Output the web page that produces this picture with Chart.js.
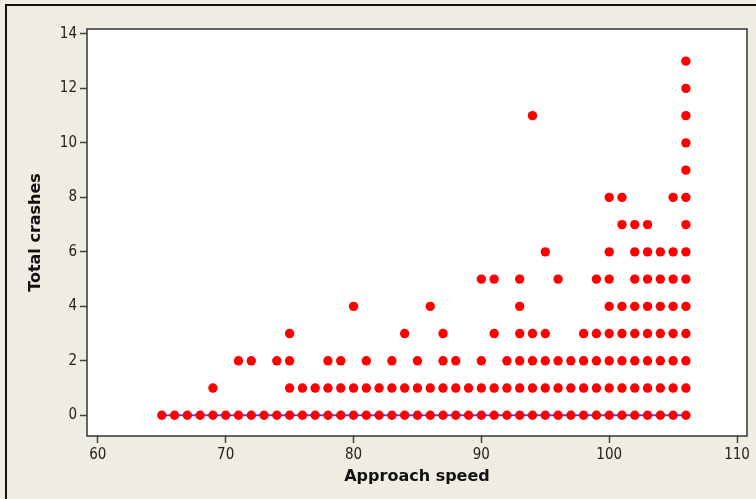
<!DOCTYPE html>
<html>
<head>
<meta charset="utf-8">
<script src="https://cdn.jsdelivr.net/npm/chart.js@4"></script>
<style>
  html, body { margin: 0; padding: 0; background: #efece3; }
  canvas { display: block; }
</style>
</head>
<body>
<canvas id="chartCanvas" width="756" height="499"></canvas>
<script>
// approach speeds observed for each crash count
const crash0 = [65, 66, 67, 68, 69, 70, 71, 72, 73, 74, 75, 76, 77, 78, 79, 80, 81, 82, 83, 84, 85,
  86, 87, 88, 89, 90, 91, 92, 93, 94, 95, 96, 97, 98, 99, 100, 101, 102, 103, 104, 105, 106];
const crash1 = [69, 75, 76, 77, 78, 79, 80, 81, 82, 83, 84, 85, 86, 87, 88, 89, 90, 91, 92, 93, 94,
  95, 96, 97, 98, 99, 100, 101, 102, 103, 104, 105, 106];
const crash2 = [71, 72, 74, 75, 78, 79, 81, 83, 85, 87, 88, 90, 92, 93, 94, 95, 96, 97, 98, 99, 100,
  101, 102, 103, 104, 105, 106];
const crash3 = [75, 84, 87, 91, 93, 94, 95, 98, 99, 100, 101, 102, 103, 104, 105, 106];
const crash4 = [80, 86, 93, 100, 101, 102, 103, 104, 105, 106];
const crash5 = [90, 91, 93, 96, 99, 100, 102, 103, 104, 105, 106];
const crash6 = [95, 100, 102, 103, 104, 105, 106];
const crash7 = [101, 102, 103, 106];
const crash8 = [100, 101, 105, 106];
const crash9 = [106];
const crash10 = [106];
const crash11 = [94, 106];
const crash12 = [106];
const crash13 = [106];

// flat reference line along zero crashes
const lineSpeeds = [65, 106];
const lineCrashes = [0, 0];

const xTicks = [60, 70, 80, 90, 100, 110];
const yTicks = [0, 2, 4, 6, 8, 10, 12, 14];

const speedLists = [crash0, crash1, crash2, crash3, crash4, crash5, crash6, crash7,
  crash8, crash9, crash10, crash11, crash12, crash13];

const points = [];
speedLists.forEach((speeds, crashes) => {
  speeds.forEach(s => points.push({ x: s, y: crashes }));
});
const linePoints = lineSpeeds.map((s, i) => ({ x: s, y: lineCrashes[i] }));

const tickFont = { family: "'DejaVu Sans Condensed', 'DejaVu Sans', sans-serif", size: 15 };
const titleFont = { family: "'DejaVu Sans', sans-serif", size: 16, weight: 'bold' };

// page background, outer frame, white plot box
const framePlugin = {
  id: 'frames',
  beforeDraw(chart) {
    const { ctx, chartArea: a } = chart;
    ctx.save();
    ctx.fillStyle = '#efece3';
    ctx.fillRect(0, 0, chart.width, chart.height);
    ctx.strokeStyle = '#111';
    ctx.lineWidth = 2;
    ctx.strokeRect(6, 5, 800, 600);
    ctx.fillStyle = '#ffffff';
    ctx.fillRect(a.left, a.top, a.right - a.left, a.bottom - a.top);
    ctx.restore();
  },
  beforeDatasetsDraw(chart) {
    const { ctx, chartArea: a } = chart;
    ctx.save();
    ctx.strokeStyle = '#333';
    ctx.lineWidth = 1.5;
    ctx.strokeRect(a.left, a.top, a.right - a.left, a.bottom - a.top);
    ctx.restore();
  }
};

const ctx = document.getElementById('chartCanvas').getContext('2d');
new Chart(ctx, {
  type: 'scatter',
  data: {
    datasets: [
      {
        label: 'Total crashes',
        data: points,
        backgroundColor: '#ff0000',
        borderWidth: 0,
        pointRadius: 4.7,
        order: 1
      },
      {
        type: 'line',
        label: 'zero',
        data: linePoints,
        borderColor: '#4848f0',
        borderWidth: 2,
        pointRadius: 0,
        fill: false,
        order: 2
      }
    ]
  },
  plugins: [framePlugin],
  options: {
    responsive: false,
    animation: false,
    layout: { padding: { left: 0, top: 29, right: 9, bottom: 0 } },
    plugins: {
      legend: { display: false },
      tooltip: { enabled: false }
    },
    scales: {
      x: {
        type: 'linear',
        min: 59.15,
        max: 110.78,
        afterBuildTicks: scale => { scale.ticks = xTicks.map(v => ({ value: v })); },
        afterFit: scale => { scale.height = 63; },
        grid: { drawOnChartArea: false, drawTicks: true, tickLength: 7, tickColor: '#444', tickWidth: 1.5 },
        border: { display: false },
        ticks: { font: tickFont, color: '#222', padding: 3, maxRotation: 0 },
        title: {
          display: true,
          text: 'Approach speed',
          font: titleFont,
          color: '#111',
          padding: { top: 0, bottom: 12.4 }
        }
      },
      y: {
        type: 'linear',
        min: -0.76,
        max: 14.18,
        afterBuildTicks: scale => { scale.ticks = yTicks.map(v => ({ value: v })); },
        afterFit: scale => { scale.width = 87; },
        grid: { drawOnChartArea: false, drawTicks: true, tickLength: 7, tickColor: '#444', tickWidth: 1.5 },
        border: { display: false },
        ticks: { font: tickFont, color: '#222', padding: 3 },
        title: {
          display: true,
          text: 'Total crashes',
          font: titleFont,
          color: '#111',
          padding: { top: 26.4, bottom: 0 }
        }
      }
    }
  }
});
</script>
</body>
</html>
